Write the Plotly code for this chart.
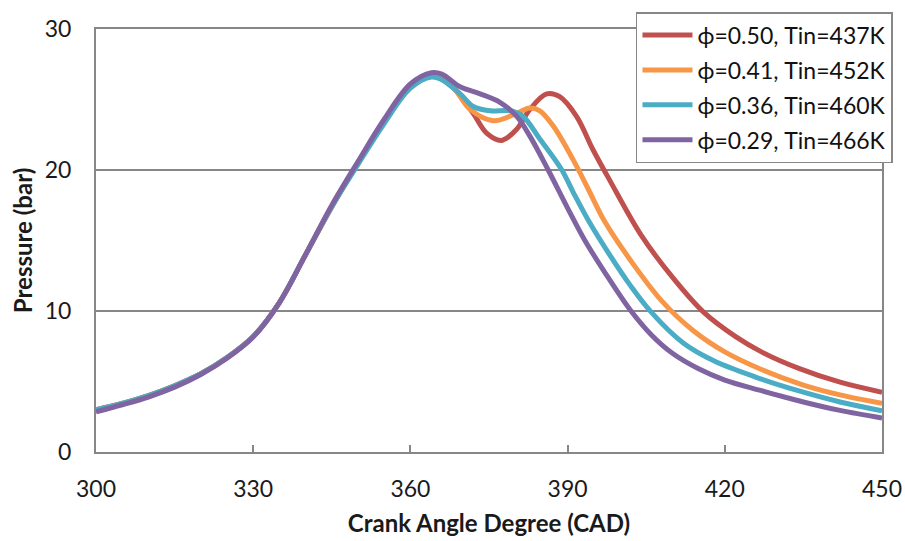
import plotly.graph_objects as go

# ---- data ----
rise_x = [300, 305, 310, 315, 320, 325, 330, 335, 340, 345, 350, 355, 360]

red_x = rise_x + [364, 368, 372, 374.6, 377.4, 380.3, 382.8, 386, 388.5, 391.7, 394.9, 398, 404, 410, 416, 422,
                  427, 434, 442, 450]
red_y = [3.0, 3.45, 4.0, 4.7, 5.55, 6.7, 8.2, 10.6, 14.0, 17.4, 20.5, 23.4, 25.9,
         26.7, 25.9, 24.0, 22.6, 22.1, 22.9, 24.3, 25.4, 25.2, 23.8, 21.4, 19.3, 15.4, 12.4, 9.9, 8.2,
         7.1, 5.95, 4.95, 4.24]

orange_x = rise_x + [364, 368, 371.4, 375.8, 379.6, 382.8, 384.7, 387.3, 391.1, 394, 397, 402, 408, 414, 420,
                     427, 435, 442, 450]
orange_y = [3.0, 3.45, 4.0, 4.7, 5.55, 6.7, 8.2, 10.6, 14.0, 17.4, 20.5, 23.4, 25.9,
            26.7, 25.9, 24.3, 23.5, 23.9, 24.4, 24.2, 23.1, 20.7, 18.6, 16.4, 13.6, 10.7, 8.6, 7.1,
            5.85, 4.75, 4.05, 3.45]

cyan_x = rise_x + [364, 366, 369.5, 372, 375.2, 379, 381.5, 384.7, 388.9, 391.1, 394, 398, 402, 406, 412, 418,
                   426, 434, 442, 450]
cyan_y = [3.0, 3.45, 4.0, 4.7, 5.55, 6.7, 8.2, 10.6, 14.0, 17.4, 20.4, 23.3, 25.8,
          26.6, 26.4, 25.4, 24.5, 24.2, 24.2, 23.8, 22.2, 20.0, 18.4, 16.4, 14.0, 11.8, 9.9, 7.75, 6.45,
          5.3, 4.35, 3.55, 2.93]

purple_x = rise_x + [364, 366, 369.5, 373.3, 377.1, 380.3, 382.8, 386.3, 390, 393.3, 397, 402, 406, 410, 415,
                     420, 427, 435, 442, 450]
purple_y = [2.85, 3.35, 3.9, 4.6, 5.5, 6.65, 8.15, 10.6, 14.0, 17.5, 20.6, 23.6, 26.1,
            26.9, 26.8, 25.9, 25.4, 24.8, 23.8, 22.4, 20.0, 17.3, 15.0, 12.8, 10.05, 8.3, 7.0, 5.9,
            5.1, 4.35, 3.55, 2.95, 2.41]

series_names = ["ϕ=0.50, Tin=437K", "ϕ=0.41, Tin=452K", "ϕ=0.36, Tin=460K", "ϕ=0.29, Tin=466K"]
series_colors = ["#C0504D", "#F79646", "#4BACC6", "#8064A2"]
x_ticks = [300, 330, 360, 390, 420, 450]
y_ticks = [0, 10, 20, 30]

FONT = "Lato"
GRID = "#878787"

fig = go.Figure()
for i, (xs, ys) in enumerate([(red_x, red_y), (orange_x, orange_y), (cyan_x, cyan_y), (purple_x, purple_y)]):
    fig.add_trace(go.Scatter(
        x=xs, y=ys, mode="lines", name=series_names[i], legendgroup=f"g{i}",
        line=dict(color=series_colors[i], width=5, shape="spline", smoothing=1.0),
    ))

fig.update_layout(
    width=905, height=541,
    margin=dict(l=96, r=23, t=29, b=89, autoexpand=False),
    paper_bgcolor="white", plot_bgcolor="white",
    font=dict(family=FONT, color="#1a1a1a"),
    showlegend=True,
    legend=dict(
        x=0.687, y=1.04, xanchor="left", yanchor="top",
        bgcolor="white", bordercolor=GRID, borderwidth=1.5,
        font=dict(family=FONT, size=23, color="#111"),
        tracegroupgap=2, itemwidth=50,
    ),
    xaxis=dict(
        range=[300, 450], tickvals=x_ticks, ticktext=[str(v) for v in x_ticks],
        showgrid=False, zeroline=False,
        showline=True, linecolor=GRID, linewidth=2, mirror=True,
        ticks="inside", ticklen=7, tickcolor=GRID, tickwidth=1.5,
        tickfont=dict(family=FONT, size=23, color="#1a1a1a"),
        ticklabelstandoff=15,
        title=dict(text="<b>Crank Angle Degree (CAD)</b>", font=dict(family=FONT, size=24, color="#1a1a1a"), standoff=15),
    ),
    yaxis=dict(
        range=[0, 30], tickvals=y_ticks, ticktext=[str(v) for v in y_ticks],
        showgrid=True, gridcolor=GRID, gridwidth=1.5, zeroline=False,
        showline=True, linecolor=GRID, linewidth=2, mirror=True,
        ticks="", tickfont=dict(family=FONT, size=23, color="#1a1a1a"),
        ticklabelstandoff=18,
        title=dict(text="<b>Pressure (bar)</b>", font=dict(family=FONT, size=24, color="#1a1a1a"), standoff=5),
    ),
)

fig.write_html("out.html", config={"displayModeBar": False},
               post_script="document.body.style.margin='0';")
